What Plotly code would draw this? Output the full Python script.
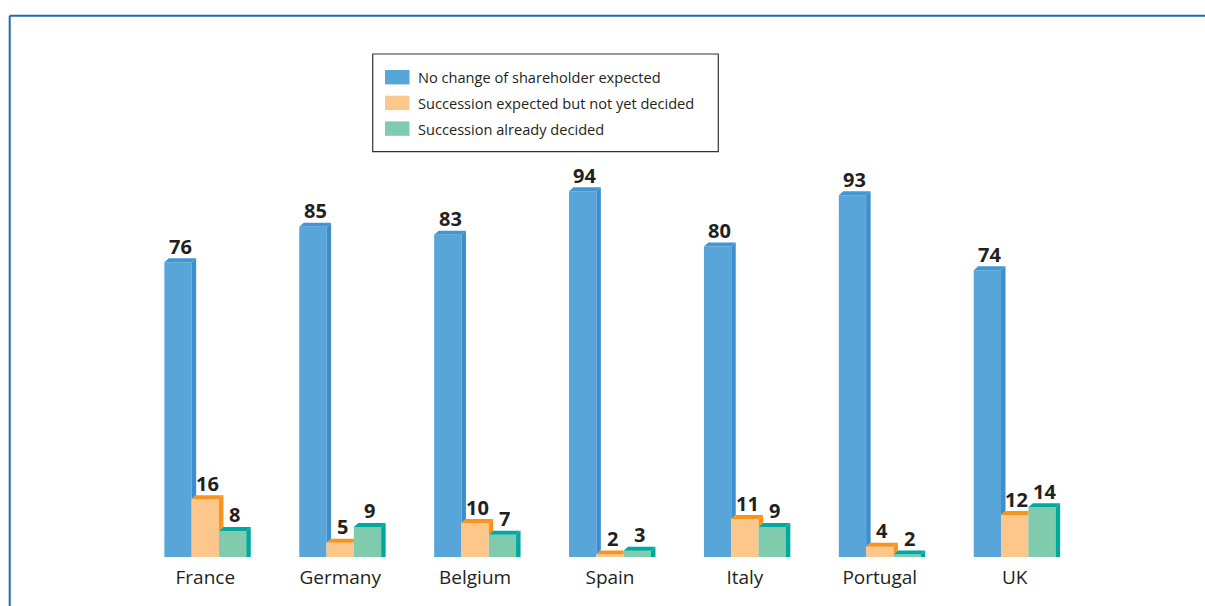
import plotly.graph_objects as go

# ---- data -------------------------------------------------------------
categories = ["France", "Germany", "Belgium", "Spain", "Italy", "Portugal", "UK"]
series_names = [
    "No change of shareholder expected",
    "Succession expected but not yet decided",
    "Succession already decided",
]
no_change = [76, 85, 83, 94, 80, 93, 74]
not_yet_decided = [16, 5, 10, 2, 11, 4, 12]
already_decided = [8, 9, 7, 3, 9, 2, 14]

series_values = [no_change, not_yet_decided, already_decided]

# ---- styling ----------------------------------------------------------
FONT = "Open Sans"
TEXT_COLOR = "#231f20"
front_colors = ["#58a6d9", "#fdc68b", "#80cbad"]
side_colors = ["#3d8ecf", "#f7941e", "#00a99d"]
top_colors = ["#4196d3", "#f7941e", "#00a99d"]
FRAME_COLOR = "#2268b2"

W, H = 1205, 606
MARGIN_B = 49
PLOT_H = H - MARGIN_B

X_RANGE = [-1.522, 7.411]
Y_RANGE = [1.392, 142.41]
px_per_x = W / (X_RANGE[1] - X_RANGE[0])
px_per_y = PLOT_H / (Y_RANGE[1] - Y_RANGE[0])

BAR_W = 0.2024              # width of one bar, in category units
DEPTH_X = 4.5 / px_per_x    # 3-D depth offset (to the right)
DEPTH_Y = 4.0 / px_per_y    # 3-D depth offset (upwards)


def paper_x(px):
    return px / W


def paper_y(py):
    return 1 - py / PLOT_H


fig = go.Figure()

# Front faces of the bars
for s, (name, vals) in enumerate(zip(series_names, series_values)):
    fig.add_trace(go.Bar(
        x=list(range(len(categories))),
        y=vals,
        name=name,
        width=BAR_W,
        offset=(s - 1.5) * BAR_W,
        marker=dict(color=front_colors[s], line=dict(width=0)),
        showlegend=False,
        hoverinfo="skip",
    ))

# Side and top faces giving the bars their depth
for s, vals in enumerate(series_values):
    neighbour = series_values[s + 1] if s + 1 < len(series_values) else [0] * len(vals)
    side_x, side_y, top_x, top_y = [], [], [], []
    for i, v in enumerate(vals):
        x0 = i + (s - 1.5) * BAR_W
        x1 = x0 + BAR_W
        nb = neighbour[i]
        if v > nb:
            side_x += [x1, x1, x1 + DEPTH_X, x1 + DEPTH_X, None]
            side_y += [nb, v, v + DEPTH_Y, nb + DEPTH_Y, None]
            top_x += [x0, x0 + DEPTH_X, x1 + DEPTH_X, x1, None]
            top_y += [v, v + DEPTH_Y, v + DEPTH_Y, v, None]
        else:
            top_x += [x0, x0 + DEPTH_X, x1, x1, None]
            top_y += [v, v + DEPTH_Y, v + DEPTH_Y, v, None]
    for fx, fy, col in ((side_x, side_y, side_colors[s]), (top_x, top_y, top_colors[s])):
        if fx:
            fig.add_trace(go.Scatter(
                x=fx, y=fy, mode="lines", fill="toself",
                fillcolor=col, line=dict(width=0, color=col),
                showlegend=False, hoverinfo="skip",
            ))

# Value labels above each bar
annotations = []
for s, vals in enumerate(series_values):
    for i, v in enumerate(vals):
        xc = i + (s - 1.0) * BAR_W + DEPTH_X / 2
        annotations.append(dict(
            x=xc, y=v + DEPTH_Y, xref="x", yref="y",
            text=str(v), showarrow=False,
            xanchor="center", yanchor="bottom", yshift=-3.5,
            font=dict(family=FONT, size=20, color=TEXT_COLOR, weight="bold"),
        ))

# Legend box drawn by hand
shapes = [
    dict(type="rect", xref="paper", yref="paper",
         x0=paper_x(372.7), x1=paper_x(718.3),
         y0=paper_y(151.7), y1=paper_y(54),
         line=dict(color="#333333", width=1.2), fillcolor="white", layer="above"),
]
row_centres = [77.2, 102.9, 128.6]
for s, name in enumerate(series_names):
    yc = row_centres[s]
    shapes.append(dict(
        type="rect", xref="paper", yref="paper",
        x0=paper_x(385), x1=paper_x(409.5),
        y0=paper_y(yc + 7.2), y1=paper_y(yc - 7.2),
        line=dict(width=0), fillcolor=front_colors[s], layer="above",
    ))
    annotations.append(dict(
        x=paper_x(416), y=paper_y(yc), xref="paper", yref="paper",
        text=name, showarrow=False, xanchor="left", yanchor="middle",
        font=dict(family=FONT, size=14.6, color=TEXT_COLOR),
    ))

# Frame lines along the top and left edges
shapes.append(dict(type="line", xref="paper", yref="paper",
                   x0=paper_x(9.7), x1=1.0, y0=paper_y(15.7), y1=paper_y(15.7),
                   line=dict(color=FRAME_COLOR, width=2)))
shapes.append(dict(type="line", xref="paper", yref="paper",
                   x0=paper_x(9.7), x1=paper_x(9.7), y0=paper_y(15.7), y1=paper_y(H),
                   line=dict(color=FRAME_COLOR, width=2)))

fig.update_layout(
    width=W, height=H,
    margin=dict(l=0, r=0, t=0, b=MARGIN_B, pad=0),
    paper_bgcolor="white", plot_bgcolor="white",
    barmode="overlay",
    showlegend=False,
    xaxis=dict(
        range=X_RANGE, tickmode="array",
        tickvals=list(range(len(categories))), ticktext=categories,
        tickfont=dict(family=FONT, size=19, color=TEXT_COLOR),
        ticklabelstandoff=7,
        showgrid=False, zeroline=False, showline=False, ticks="",
        fixedrange=True,
    ),
    yaxis=dict(range=Y_RANGE, visible=False, fixedrange=True),
    shapes=shapes,
    annotations=annotations,
)

fig.write_html("out.html")
